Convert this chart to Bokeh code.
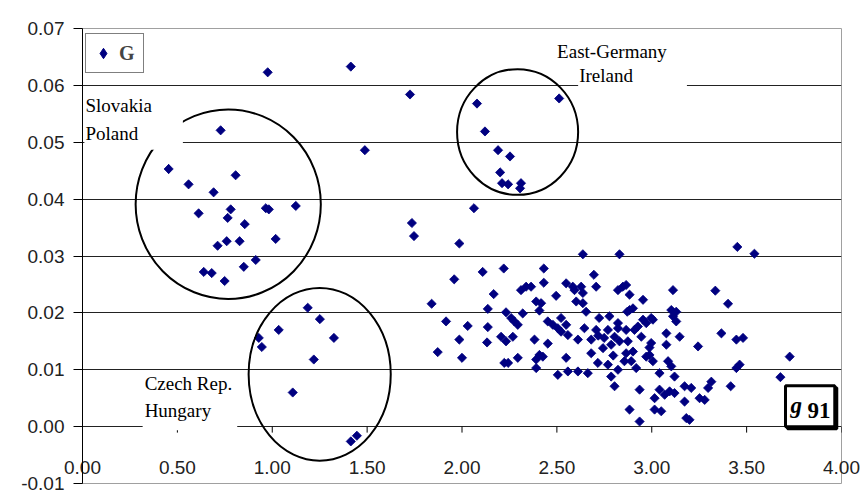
import numpy as np
from bokeh.plotting import figure
from bokeh.models import Range1d, FixedTicker, NumeralTickFormatter, Label
from bokeh.embed import file_html
from bokeh.resources import INLINE

# ---- data ----
x_ticks = [0.0, 0.5, 1.0, 1.5, 2.0, 2.5, 3.0, 3.5, 4.0]
y_ticks = [-0.01, 0.0, 0.01, 0.02, 0.03, 0.04, 0.05, 0.06, 0.07]

# Slovakia / Poland group
cee_x = [0.454, 0.559, 0.691, 0.807, 0.612, 0.781, 0.765, 0.855, 0.966, 0.982, 1.124,
         0.728, 0.712, 0.760, 0.828, 1.018, 0.639, 0.681, 0.749, 0.850, 0.913, 0.976]
cee_y = [0.0453, 0.0426, 0.0412, 0.0442, 0.0375, 0.0382, 0.0367, 0.0356, 0.0384, 0.0382, 0.0388,
         0.0521, 0.0318, 0.0326, 0.0326, 0.0330, 0.0272, 0.0270, 0.0256, 0.0281, 0.0293, 0.0623]

# Czech Rep. / Hungary group
cz_x = [0.929, 0.945, 1.034, 1.108, 1.187, 1.251, 1.325, 1.219, 1.414, 1.446]
cz_y = [0.0156, 0.0140, 0.0170, 0.0060, 0.0209, 0.0189, 0.0156, 0.0118, -0.0026, -0.0016]

# East-Germany / Ireland group and other upper points
up_x = [1.414, 1.726, 1.488, 2.079, 2.121, 2.190, 2.253, 2.201, 2.211, 2.243, 2.311, 2.306,
        2.512, 2.063, 1.736, 1.747]
up_y = [0.0633, 0.0584, 0.0486, 0.0568, 0.0519, 0.0486, 0.0475, 0.0447, 0.0428, 0.0426, 0.0428,
        0.0419, 0.0577, 0.0384, 0.0358, 0.0335]

# main cloud
main_x = [1.840, 1.916, 1.872, 1.959, 1.986, 1.986, 2.000, 2.030, 2.109, 2.136, 2.136, 2.132,
          2.167, 2.220, 2.232, 2.206, 2.232, 2.268, 2.223, 2.243, 2.294, 2.259, 2.276, 2.294,
          2.320, 2.311, 2.338, 2.364, 2.391, 2.417, 2.408, 2.382, 2.452, 2.391, 2.408, 2.426,
          2.391, 2.431, 2.431, 2.496, 2.452, 2.479, 2.505, 2.522, 2.549, 2.522, 2.558, 2.549,
          2.549, 2.505, 2.558, 2.637, 2.830, 2.584, 2.593, 2.628, 2.637, 2.695, 2.707, 2.602,
          2.637, 2.654, 2.822, 2.848, 2.865, 2.883, 2.954, 3.112, 3.335, 3.402, 2.777, 2.883,
          2.901, 3.103, 3.112, 3.129, 2.954, 2.997, 2.971, 2.645, 2.707, 2.769, 2.822, 2.865,
          2.927, 2.611, 2.718, 2.749, 2.804, 2.830, 2.786, 2.743, 2.681, 2.716, 2.769, 2.822,
          2.856, 2.865, 2.901, 2.918, 2.945, 2.997, 2.988, 3.006, 3.077, 3.077, 3.147, 3.244,
          3.367, 2.611, 2.663, 2.786, 2.804, 3.041, 3.086, 3.103, 3.120, 2.936, 3.041, 3.015,
          3.068, 3.094, 3.120, 3.173, 3.208, 3.173, 3.252, 3.279, 3.314, 3.297, 2.883, 3.015,
          3.050, 2.936, 3.182, 3.199, 3.446, 3.481, 3.727, 3.463, 3.446, 3.416, 3.678, 3.451,
          3.541, 2.871, 2.822, 2.909, 3.006, 2.971, 3.129, 2.874, 2.892, 2.988, 2.681, 2.723,
          2.797]
main_y = [0.0216, 0.0185, 0.0131, 0.0259, 0.0322, 0.0153, 0.0121, 0.0177, 0.0272, 0.0207, 0.0175, 0.0148,
          0.0233, 0.0278, 0.0201, 0.0158, 0.0150, 0.0158, 0.0112, 0.0112, 0.0121, 0.0191, 0.0185, 0.0179,
          0.0199, 0.0240, 0.0246, 0.0246, 0.0220, 0.0217, 0.0204, 0.0153, 0.0146, 0.0118, 0.0126, 0.0123,
          0.0103, 0.0278, 0.0253, 0.0230, 0.0185, 0.0179, 0.0173, 0.0191, 0.0179, 0.0167, 0.0161, 0.0252,
          0.0121, 0.0091, 0.0097, 0.0303, 0.0303, 0.0246, 0.0240, 0.0246, 0.0235, 0.0267, 0.0246, 0.0220,
          0.0217, 0.0202, 0.0240, 0.0246, 0.0249, 0.0232, 0.0223, 0.0240, 0.0239, 0.0216, 0.0194, 0.0205,
          0.0208, 0.0205, 0.0194, 0.0185, 0.0188, 0.0191, 0.0182, 0.0173, 0.0170, 0.0170, 0.0173, 0.0170,
          0.0176, 0.0153, 0.0160, 0.0156, 0.0158, 0.0150, 0.0144, 0.0138, 0.0129, 0.0112, 0.0109, 0.0100,
          0.0115, 0.0129, 0.0132, 0.0103, 0.0158, 0.0147, 0.0126, 0.0115, 0.0164, 0.0144, 0.0158, 0.0141,
          0.0164, 0.0097, 0.0094, 0.0088, 0.0071, 0.0094, 0.0115, 0.0106, 0.0088, 0.0065, 0.0065, 0.0050,
          0.0056, 0.0062, 0.0059, 0.0071, 0.0068, 0.0044, 0.0050, 0.0047, 0.0079, 0.0068, 0.0030, 0.0030,
          0.0027, 0.0009, 0.0015, 0.0012, 0.0153, 0.0156, 0.0123, 0.0109, 0.0103, 0.0071, 0.0087, 0.0316,
          0.0304, 0.0202, 0.0182, 0.0170, 0.0188, 0.0123, 0.0202, 0.0150, 0.0115, 0.0139, 0.0153, 0.0191,
          0.0125]

# circled country groups (centre x, centre y, width, height)
ell_x = [0.768, 1.250, 2.293]
ell_y = [0.0391, 0.0092, 0.0518]
ell_w = [0.976, 0.749, 0.638]
ell_h = [0.0333, 0.0304, 0.0221]

all_x = cee_x + cz_x + up_x + main_x
all_y = cee_y + cz_y + up_y + main_y

NAVY = "#000080"
TICK_FONT = "Liberation Sans"
SERIF = "Liberation Serif"

p = figure(width=862, height=504, output_backend="svg", toolbar_location=None,
           x_range=Range1d(0, 4), y_range=Range1d(-0.01, 0.07),
           min_border_left=82, min_border_right=21, min_border_top=28, min_border_bottom=21)
p.background_fill_color = "white"
p.border_fill_color = "white"
p.outline_line_color = "#a0a0a0"
p.outline_line_width = 1

# y axis
yax = p.yaxis[0]
yax.ticker = FixedTicker(ticks=y_ticks)
yax.formatter = NumeralTickFormatter(format="0.00")
yax.axis_line_color = "black"
yax.major_tick_line_color = "black"
yax.major_tick_out = 9
yax.major_tick_in = 0
yax.minor_tick_line_color = None
yax.major_label_standoff = 9
yax.major_label_text_font = TICK_FONT
yax.major_label_text_font_size = "19px"
yax.major_label_text_color = "#222222"

# x axis: labels only, pulled up above the frame bottom
xax = p.xaxis[0]
xax.ticker = FixedTicker(ticks=x_ticks)
xax.formatter = NumeralTickFormatter(format="0.00")
xax.axis_line_color = None
xax.major_tick_line_color = None
xax.minor_tick_line_color = None
xax.major_tick_out = 0
xax.major_tick_in = 0
xax.major_label_standoff = -23
xax.major_label_text_font = TICK_FONT
xax.major_label_text_font_size = "19px"
xax.major_label_text_color = "#222222"

p.xgrid.visible = False
p.ygrid.ticker = FixedTicker(ticks=y_ticks[1:-1])
p.ygrid.grid_line_color = "#222222"
p.ygrid.grid_line_width = 1

# x tick marks on the zero line
p.segment(x0=x_ticks[1:], y0=0, x1=x_ticks[1:], y1=-0.00105, line_color="black", line_width=1)

# legend entry (diamond glyph), hidden underneath the first data point
p.scatter(x=all_x[:1], y=all_y[:1], marker="diamond", size=9, fill_color=NAVY,
          line_color=NAVY, legend_label="G")
p.scatter(all_x, all_y, marker="square", angle=np.pi / 4, size=6.5,
          fill_color=NAVY, line_color=NAVY, line_width=0.8)

p.ellipse(x=ell_x, y=ell_y, width=ell_w, height=ell_h, fill_color=None,
          line_color="black", line_width=2)

# country labels
def add_label(x, y, text, pad, align="left"):
    lab = Label(x=x, y=y, text=text, text_font=SERIF, text_font_size="19px",
                text_baseline="top", text_align=align, text_color="black",
                text_line_height=1.3,
                background_fill_color="white", padding=pad)
    p.add_layout(lab)

add_label(0.01, 0.0586, "Slovakia\nPoland", dict(left=1, right=31, top=2, bottom=6))
add_label(0.317, 0.0098, "Czech Rep.\nHungary", dict(left=2, right=5, top=2, bottom=9))
add_label(2.496, 0.0679, "East-Germany", dict(left=1, right=1, top=1, bottom=1))
add_label(2.612, 0.0637, "Ireland", dict(left=1, right=54, top=1, bottom=4))

# g 91 box (with a dark shadow at lower right)
box_pad = dict(left=5, right=4, top=7, bottom=9)
gx, gy = 3.705, 0.0
shadow = Label(x=gx, y=gy, text="g 91", text_font=SERIF, text_font_size="23px",
               text_font_style="bold", text_baseline="bottom", text_align="left",
               text_color="black", background_fill_color="black",
               border_line_color="black", border_line_width=3,
               x_offset=2, y_offset=-2, padding=box_pad)
p.add_layout(shadow)
g91 = Label(x=gx, y=gy, text="g 91", text_font=SERIF, text_font_size="23px",
            text_font_style="bold", text_baseline="bottom", text_align="left",
            text_color="white",
            background_fill_color="white", border_line_color="black", border_line_width=3,
            padding=box_pad)
p.add_layout(g91)
p.add_layout(Label(x=gx, y=gy, text="g", text_font=SERIF, text_font_size="23px",
                   text_font_style="bold italic", text_baseline="bottom", text_align="left",
                   text_color="black", padding=box_pad))
p.add_layout(Label(x=gx, y=gy, text="91", text_font=SERIF, text_font_size="23px",
                   text_font_style="bold", text_baseline="bottom", text_align="left",
                   text_color="black", padding=box_pad, x_offset=17))

leg = p.legend[0]
leg.location = (3, 410)
leg.margin = 0
leg.padding = 4
leg.spacing = 0
leg.border_line_color = "black"
leg.border_line_width = 1
leg.background_fill_color = "white"
leg.background_fill_alpha = 1
leg.glyph_width = 26
leg.glyph_height = 30
leg.label_standoff = 3
leg.label_text_font = SERIF
leg.label_text_font_style = "bold"
leg.label_text_font_size = "20px"

open("out.html", "w").write(file_html(p, INLINE))
